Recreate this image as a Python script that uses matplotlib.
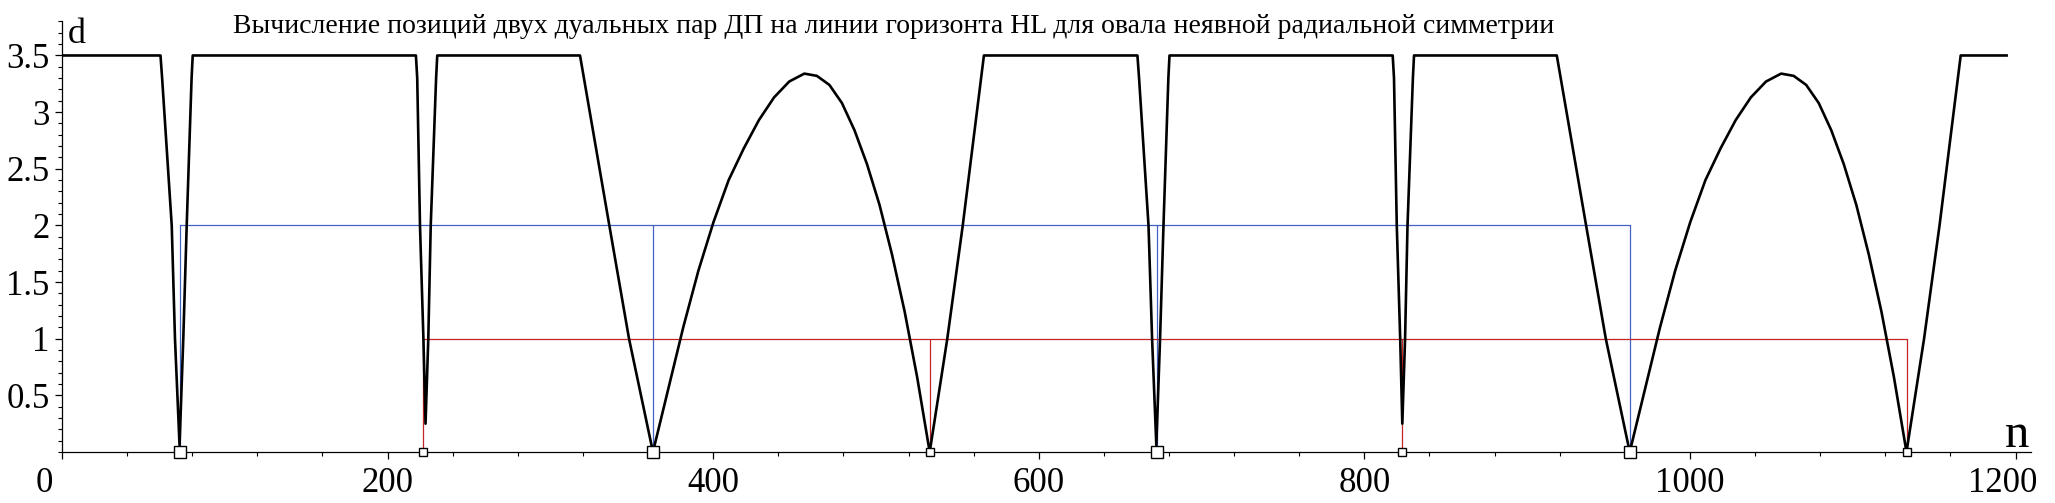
import matplotlib
matplotlib.use("Agg")
import matplotlib.pyplot as plt
from matplotlib.ticker import FixedLocator, MultipleLocator
from matplotlib.transforms import ScaledTranslation

# ---------------- data ----------------
title = "Вычисление позиций двух дуальных пар ДП на линии горизонта HL для овала неявной радиальной симметрии"

n_curve = [0, 60.5, 61.5, 67.4, 69.4, 72.2, 74.5, 76.6, 79.6, 80.3,
           217.4, 218.2, 219.9, 222, 223.3, 225, 226.5, 229.8, 230.5,
           318.2, 336.2, 348.3, 363,
           372.3, 381.6, 390.9, 400.2, 409.5, 418.8, 428.1, 437.4, 446.7, 456,
           463.7, 471.4, 479.1, 486.8, 494.5, 502.2, 509.9, 517.6, 525.3, 533,
           543.8, 553.3, 566.3,
           660.6, 661.6, 667.4, 669.6, 672.2, 674.5, 676.6, 679.6, 680.3,
           817.4, 818.2, 819.9, 822, 823.3, 825, 826.5, 829.8, 830.5,
           918.2, 936.2, 948.3, 963,
           972.3, 981.6, 990.9, 1000.2, 1009.5, 1018.8, 1028.1, 1037.4, 1046.7, 1056,
           1063.7, 1071.4, 1079.1, 1086.8, 1094.5, 1102.2, 1109.9, 1117.6, 1125.3, 1133,
           1143.8, 1153.3, 1166.3,
           1194.5]
d_curve = [3.5, 3.5, 3.3, 2.0, 1.0, 0.06, 1.0, 2.0, 3.3, 3.5,
           3.5, 3.3, 2.0, 1.0, 0.25, 1.0, 2.0, 3.3, 3.5,
           3.5, 2.0, 1.0, 0.0,
           0.55, 1.1, 1.6, 2.03, 2.4, 2.68, 2.93, 3.13, 3.27, 3.34,
           3.32, 3.24, 3.08, 2.84, 2.54, 2.18, 1.74, 1.24, 0.66, 0.0,
           1.0, 2.0, 3.5,
           3.5, 3.3, 2.0, 1.0, 0.06, 1.0, 2.0, 3.3, 3.5,
           3.5, 3.3, 2.0, 1.0, 0.25, 1.0, 2.0, 3.3, 3.5,
           3.5, 2.0, 1.0, 0.0,
           0.55, 1.1, 1.6, 2.03, 2.4, 2.68, 2.93, 3.13, 3.27, 3.34,
           3.32, 3.24, 3.08, 2.84, 2.54, 2.18, 1.74, 1.24, 0.66, 0.0,
           1.0, 2.0, 3.5,
           3.5]

blue_n = [72.5, 363, 672.5, 963]
blue_level = 2.0
red_n = [222, 533, 823, 1133.5]
red_level = 1.0

x_ticks = [0, 200, 400, 600, 800, 1000, 1200]
x_tick_labels = ["0", "200", "400", "600", "800", "1000", "1200"]
y_ticks = [0.5, 1, 1.5, 2, 2.5, 3, 3.5]
y_tick_labels = ["0.5", "1", "1.5", "2", "2.5", "3", "3.5"]

# ---------------- figure ----------------
W, H, DPI = 2055, 503, 100
fig = plt.figure(figsize=(W / DPI, H / DPI), dpi=DPI)
serif = ["Liberation Serif", "DejaVu Serif"]
plt.rcParams["font.family"] = serif

left_px, right_px, top_px, bottom_px = 62, 2030.7, 20.7, 452
ax = fig.add_axes([left_px / W, 1 - bottom_px / H,
                   (right_px - left_px) / W, (bottom_px - top_px) / H])
ax.set_xlim(0, 1209.3)
ax.set_ylim(0, 3.807)

for s in ["top", "right"]:
    ax.spines[s].set_visible(False)
for s in ["left", "bottom"]:
    ax.spines[s].set_linewidth(0.9)
    ax.spines[s].set_color("black")

# lines for the two dual pairs
blue = "#4262c4"
red = "#c42424"
ax.plot([min(blue_n), max(blue_n)], [blue_level, blue_level], color=blue, lw=0.9, zorder=2)
ax.vlines(blue_n, 0, blue_level, color=blue, lw=0.9, zorder=2)
ax.plot([min(red_n), max(red_n)], [red_level, red_level], color=red, lw=0.9, zorder=2)
ax.vlines(red_n, 0, red_level, color=red, lw=0.9, zorder=2)

# main curve
ax.plot(n_curve, d_curve, color="black", lw=1.9, zorder=3, solid_joinstyle="round")

# markers
ax.plot(blue_n, [0] * len(blue_n), linestyle="none", marker="s", ms=8,
        mfc="white", mec="black", mew=1.0, zorder=5, clip_on=False)
ax.plot(red_n, [0] * len(red_n), linestyle="none", marker="s", ms=5.8,
        mfc="white", mec="black", mew=1.0, zorder=5, clip_on=False)

# ticks
ax.set_xticks(x_ticks, labels=x_tick_labels)
ax.xaxis.set_minor_locator(MultipleLocator(40))
ax.yaxis.set_major_locator(FixedLocator(y_ticks))
ax.set_yticklabels(y_tick_labels)
ax.yaxis.set_minor_locator(MultipleLocator(0.1))
ax.tick_params(axis="both", which="major", direction="out", length=5, width=0.9,
               labelsize=25, colors="black")
ax.tick_params(axis="x", which="major", pad=6)
ax.tick_params(axis="y", which="major", pad=4)
ax.tick_params(axis="both", which="minor", direction="out", length=3, width=0.8)

xl = ax.get_xticklabels()
xl[0].set_transform(xl[0].get_transform() + ScaledTranslation(-18 / DPI, 0, fig.dpi_scale_trans))
xl[-1].set_transform(xl[-1].get_transform() + ScaledTranslation(-13 / DPI, 0, fig.dpi_scale_trans))

# axis names
fig.text(68 / W, 1 - 43 / H, "d", fontsize=26, ha="left", va="baseline")
fig.text(2005 / W, 1 - 446.7 / H, "n", fontsize=35, ha="left", va="baseline")

# title
fig.text(233 / W, 1 - 33 / H, title, fontsize=20, ha="left", va="baseline")

fig.savefig("out.png", dpi=DPI)
